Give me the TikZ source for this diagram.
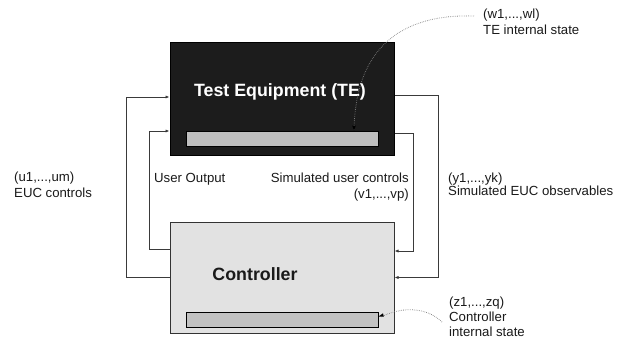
\documentclass[tikz,border=0pt]{standalone}
\usepackage{fontspec}
\setmainfont{Liberation Sans}
\usetikzlibrary{arrows.meta}
\definecolor{tefill}{HTML}{1C1C1C}
\definecolor{tebarfill}{HTML}{BEBEBE}
\definecolor{ctrlfill}{HTML}{E2E2E2}
\definecolor{ctrlbarfill}{HTML}{C2C2C2}
\definecolor{wire}{HTML}{3A3A3A}
\definecolor{ink}{HTML}{1A1A1A}
\tikzset{
  box/.style={draw=black, line width=1pt, inner sep=0pt, minimum width=224pt},
  bar/.style={draw=black, line width=1pt, inner sep=0pt, minimum width=192pt, minimum height=15pt},
  conn/.style={draw=wire, line width=1pt},
  tip/.style={-{Latex[length=4pt,width=3.2pt]}},
  dotline/.style={draw=gray, line width=0.8pt, dash pattern=on 0.6pt off 1.2pt},
  lbl/.style={text=ink, inner sep=0pt, font=\fontsize{13.2}{16}\selectfont},
  title/.style={inner sep=0pt, font=\fontsize{17.8}{20}\selectfont\bfseries}
}
\begin{document}
\begin{tikzpicture}[x=1pt,y=-1pt]
\useasboundingbox[fill=white] (0,0) rectangle (632,345);

% Test equipment block with its internal state bar
\node[box, fill=tefill, minimum height=112pt] (te) at (282,99) {};
\node[bar, fill=tebarfill] (tebar) at (282,138.5) {};
\node[title, text=white] (tetitle) at (280,92) {Test Equipment (TE)};

% Controller block with its internal state bar
\node[box, draw=black!80, fill=ctrlfill, minimum height=111pt] (ctrl) at (282,277.5) {};
\node[bar, fill=ctrlbarfill] (ctrlbar) at (282,319.5) {};
\node[title, text=ink] (ctrltitle) at (255,274) {Controller};

% Controller -> TE (left loops)
\draw[conn, tip] (ctrl.west) -| (126,97) -- ([yshift=2pt]te.west);
\draw[conn, tip] ([yshift=28.5pt]ctrl.west) -| (149,131) -- ([yshift=-32pt]te.west);

% TE -> Controller (right loops)
\draw[conn, tip] ([yshift=4pt]te.east) -| (438,277.5) -- (ctrl.east);
\draw[conn, tip] ([yshift=-34.5pt]te.east) -| (413,251) -- ([yshift=26.5pt]ctrl.east);

% Signal labels (multi-line nodes sit on the baseline of their last line)
\node[lbl, anchor=base west, align=left] (ulbl) at (14,197.8) {(u1,...,um)\\EUC controls};
\node[lbl, anchor=base west] (uout) at (154,182) {User Output};
\node[lbl, anchor=base east, align=right] (vlbl) at (409,198.5) {Simulated user controls\\(v1,...,vp)};
\node[lbl, anchor=base west, align=left] (ylbl) at (448,195) {(y1,...,yk)\\[-3pt]Simulated EUC observables};

% Internal state annotations
\node[lbl, anchor=base west, align=left] (wlbl) at (483,34.3) {(w1,...,wl)\\TE internal state};
\node[lbl, anchor=base west, align=left, font=\fontsize{13.2}{15}\selectfont] (zlbl) at (449,336.7) {(z1,...,zq)\\Controller\\internal state};

\coordinate (wstart) at (474,16);
\coordinate (zstart) at (442,322);
\draw[dotline] (wstart) .. controls (410,14) and (356,40) .. ([xshift=72pt,yshift=1pt]tebar.north);
\fill[black] ([xshift=72pt]tebar.north) -- ++(-1.8,-5) -- ++(3.6,0) -- cycle;
\draw[dotline] (zstart) .. controls (425,305) and (397,308) .. ([xshift=3pt,yshift=2.5pt]ctrlbar.east);
\fill[black] ([yshift=3pt]ctrlbar.east) -- ++(4.5,-3.2) -- ++(0.8,3.4) -- cycle;
\end{tikzpicture}
\end{document}
